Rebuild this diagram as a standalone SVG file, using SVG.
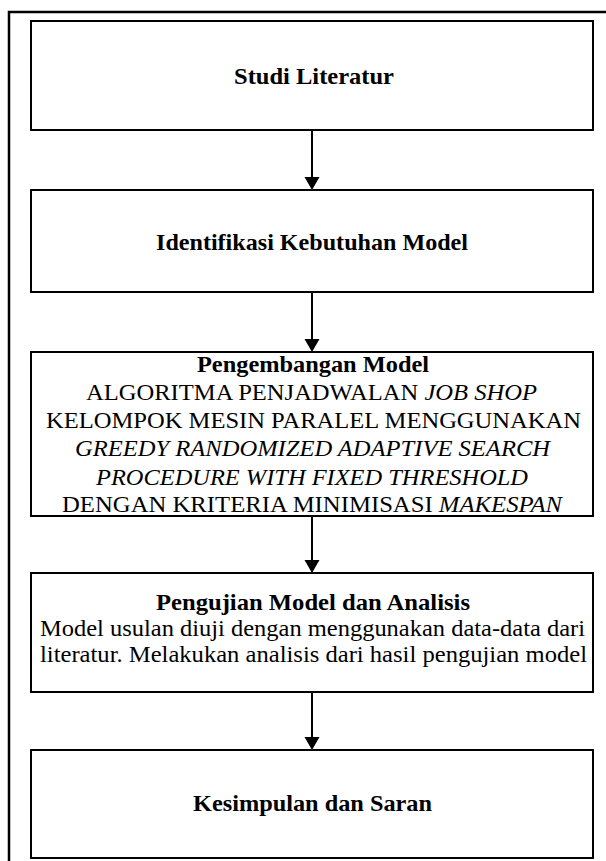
<svg xmlns="http://www.w3.org/2000/svg" width="606" height="861" viewBox="0 0 606 861">
<defs>
<style>
.box{fill:#fff;stroke:#000;stroke-width:2}
.t{font-family:"Liberation Serif","Times New Roman",serif;font-size:24px;fill:#000}
.b{font-weight:bold}
.i{font-style:italic}
.c{stroke:#000;stroke-width:2;fill:none}
.ah{fill:#000}
</style>
</defs>
<rect width="606" height="861" fill="#fff"/>
<path d="M9,861 V12 H606" fill="none" stroke="#000" stroke-width="2.5"/>
<g id="connectors">
<path class="c" d="M312,130 V178"/><path class="ah" d="M304.5,177 H319.5 L312,190 Z"/>
<path class="c" d="M312,292 V340"/><path class="ah" d="M304.5,339 H319.5 L312,352 Z"/>
<path class="c" d="M312,516 V561"/><path class="ah" d="M304.5,560 H319.5 L312,573 Z"/>
<path class="c" d="M312,692 V738"/><path class="ah" d="M304.5,737 H319.5 L312,750 Z"/>
</g>
<g id="n1">
<rect class="box" x="31" y="21" width="562" height="109"/>
<text class="t b" x="234" y="84" textLength="160" lengthAdjust="spacingAndGlyphs">Studi Literatur</text>
</g>
<g id="n2">
<rect class="box" x="31" y="190" width="562" height="102"/>
<text class="t b" x="156" y="250" textLength="312" lengthAdjust="spacingAndGlyphs">Identifikasi Kebutuhan Model</text>
</g>
<g id="n3">
<rect class="box" x="31" y="352" width="562" height="164"/>
<text class="t b" x="197" y="372" textLength="232" lengthAdjust="spacingAndGlyphs">Pengembangan Model</text>
<text class="t" x="86" y="400" textLength="451" lengthAdjust="spacingAndGlyphs">ALGORITMA PENJADWALAN <tspan class="i">JOB SHOP</tspan></text>
<text class="t" x="46" y="428" textLength="535" lengthAdjust="spacingAndGlyphs">KELOMPOK MESIN PARALEL MENGGUNAKAN</text>
<text class="t i" x="75" y="456" textLength="475" lengthAdjust="spacingAndGlyphs">GREEDY RANDOMIZED ADAPTIVE SEARCH</text>
<text class="t i" x="96" y="485" textLength="432" lengthAdjust="spacingAndGlyphs">PROCEDURE WITH FIXED THRESHOLD</text>
<text class="t" x="62" y="512" textLength="500" lengthAdjust="spacingAndGlyphs">DENGAN KRITERIA MINIMISASI <tspan class="i">MAKESPAN</tspan></text>
</g>
<g id="n4">
<rect class="box" x="31" y="573" width="562" height="119"/>
<text class="t b" x="156" y="610" textLength="314" lengthAdjust="spacingAndGlyphs">Pengujian Model dan Analisis</text>
<text class="t" x="40" y="636" textLength="545" lengthAdjust="spacingAndGlyphs">Model usulan diuji dengan menggunakan data-data dari</text>
<text class="t" x="40" y="662" textLength="547" lengthAdjust="spacingAndGlyphs">literatur. Melakukan analisis dari hasil pengujian model</text>
</g>
<g id="n5">
<rect class="box" x="31" y="750" width="562" height="108"/>
<text class="t b" x="193" y="811" textLength="239" lengthAdjust="spacingAndGlyphs">Kesimpulan dan Saran</text>
</g>
</svg>
